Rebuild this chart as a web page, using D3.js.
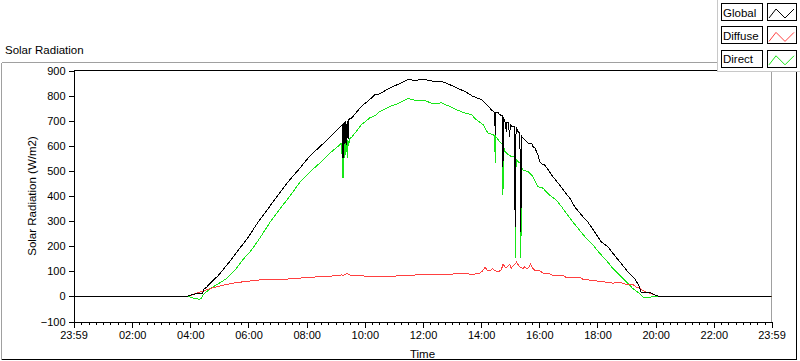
<!DOCTYPE html>
<html><head><meta charset="utf-8">
<script src="https://cdn.jsdelivr.net/npm/d3@7"></script>
<style>
body{margin:0;background:#fff;}
svg{display:block;font-family:"Liberation Sans",Arial,sans-serif;}
</style>
</head><body>
<svg id="c" width="800" height="361"></svg>
<script>
// ---- data (time in minutes after midnight, value in W/m2) ----
const seriesNames = ["Global", "Diffuse", "Direct"];
const seriesColors = ["#000000", "#ff4040", "#18e618"];
const xTickTimes = [-1, 120, 240, 360, 480, 600, 720, 840, 960, 1080, 1200, 1320, 1439];
const xTickLabels = ["23:59", "02:00", "04:00", "06:00", "08:00", "10:00", "12:00", "14:00", "16:00", "18:00", "20:00", "22:00", "23:59"];
const yTicks = [-100, 0, 100, 200, 300, 400, 500, 600, 700, 800, 900];

const globalData = [[-1,0],[233,0],[238,4],[245,8],[255,11],[266,13],[267,27],[274,37],[277,44],[298,84],[318,131],[339,184],[360,237],[380,297],[401,351],[421,404],[442,457],[463,504],[483,551],[504,591],[525,628],[545,668],[553,683],[555,551],[556,692],[557,600],[558,694],[560,612],[561,697],[563,604],[564,700],[566,627],[567,704],[569,708],[573,711],[593,757],[610,784],[621,804],[631,807],[652,831],[672,848],[689,864],[707,860],[715,866],[724,864],[741,857],[758,857],[775,844],[789,831],[806,817],[823,797],[841,784],[851,764],[861,744],[868,731],[869,644],[870,733],[875,733],[878,724],[884,720],[885,517],[886,715],[889,697],[892,657],[893,691],[896,691],[899,637],[900,684],[903,677],[909,677],[910,282],[911,277],[912,675],[916,657],[920,650],[921,262],[922,257],[923,640],[926,631],[933,617],[937,611],[944,611],[947,597],[951,591],[957,564],[961,537],[968,524],[971,524],[981,497],[988,477],[1002,444],[1012,417],[1023,391],[1033,357],[1047,324],[1060,297],[1074,257],[1088,217],[1102,197],[1115,164],[1129,131],[1143,97],[1157,71],[1165,44],[1170,17],[1181,17],[1191,13],[1201,4],[1208,0],[1439,0]];

const diffuseData = [[-1,0],[233,0],[240,4],[246,8],[254,13],[260,17],[274,27],[288,35],[308,45],[329,53],[356,60],[391,67],[439,69],[494,77],[549,83],[552,86],[555,82],[560,88],[564,91],[569,85],[573,84],[610,80],[652,80],[700,85],[734,87],[769,88],[803,91],[823,88],[837,93],[842,100],[848,115],[853,104],[858,101],[863,110],[868,104],[874,99],[878,101],[882,108],[885,128],[889,118],[892,115],[896,122],[899,128],[902,112],[905,120],[909,126],[913,136],[917,125],[920,117],[926,111],[930,118],[933,111],[938,114],[942,128],[946,112],[951,104],[961,101],[968,93],[981,91],[988,84],[1009,84],[1016,75],[1043,77],[1050,68],[1085,60],[1112,53],[1126,56],[1140,47],[1153,48],[1160,37],[1167,37],[1170,27],[1181,17],[1194,8],[1208,0],[1439,0]];

const directData = [[-1,0],[233,0],[240,-3],[246,-7],[252,-9],[258,-11],[262,-9],[264,-3],[267,8],[281,31],[298,51],[315,71],[332,104],[350,150],[366,184],[385,237],[405,297],[426,351],[447,404],[467,457],[490,502],[510,536],[530,574],[552,610],[555,471],[556,612],[558,551],[559,615],[561,564],[562,618],[564,551],[565,622],[567,600],[568,628],[573,634],[593,684],[610,711],[621,720],[631,737],[652,757],[672,771],[689,788],[707,780],[724,780],[741,767],[758,771],[775,757],[789,744],[806,731],[820,724],[830,704],[844,684],[854,651],[865,644],[868,640],[869,531],[870,638],[875,624],[884,604],[885,404],[886,600],[889,577],[896,564],[903,557],[909,555],[911,151],[912,545],[916,537],[921,530],[922,151],[923,515],[926,504],[937,497],[947,477],[957,437],[968,431],[971,424],[981,404],[995,384],[1006,357],[1016,331],[1029,297],[1043,264],[1057,231],[1071,204],[1085,171],[1098,144],[1112,111],[1126,84],[1140,57],[1153,31],[1167,11],[1174,-3],[1181,-5],[1188,-3],[1201,0],[1439,0]];

const allSeries = [globalData, diffuseData, directData];

// ---- drawing ----
const svg = d3.select("#c");
const L = 73.5, R = 771.5, T = 70.5, B = 321.5;
const x = d3.scaleLinear().domain([-1, 1439]).range([L, R]);
const y = d3.scaleLinear().domain([-100, 900]).range([B, T]);

svg.append("rect").attr("width", 800).attr("height", 361).attr("fill", "#fff");

// title
svg.append("text").attr("x", 5).attr("y", 54).attr("font-size", 11.5).attr("fill", "#000").text("Solar Radiation");

// outer frame
const fr = svg.append("g").attr("shape-rendering", "crispEdges");
fr.append("line").attr("x1", 1.5).attr("x2", 796.5).attr("y1", 62.5).attr("y2", 62.5).attr("stroke", "#a0a0a0");
fr.append("line").attr("x1", 1.5).attr("x2", 1.5).attr("y1", 62.5).attr("y2", 359.5).attr("stroke", "#a0a0a0");
fr.append("line").attr("x1", 796.5).attr("x2", 796.5).attr("y1", 62.5).attr("y2", 359.5).attr("stroke", "#000");
fr.append("line").attr("x1", 1.5).attr("x2", 796.5).attr("y1", 359.5).attr("y2", 359.5).attr("stroke", "#000");

// plot border top/right
fr.append("line").attr("x1", L).attr("x2", R).attr("y1", T).attr("y2", T).attr("stroke", "#000");
fr.append("line").attr("x1", R).attr("x2", R).attr("y1", T).attr("y2", B).attr("stroke", "#a0a0a0");

// clip
svg.append("clipPath").attr("id", "clip").append("rect")
  .attr("x", L).attr("y", T).attr("width", R - L).attr("height", B - T);

// data lines (Direct drawn first, Global on top)
const line = d3.line().x(d => x(d[0])).y(d => y(d[1]));
const order = [2, 1, 0];
svg.append("g").attr("clip-path", "url(#clip)")
  .selectAll("path").data(order).join("path")
  .attr("d", i => line(allSeries[i]))
  .attr("fill", "none")
  .attr("stroke", i => seriesColors[i])
  .attr("stroke-width", 1)
  .attr("shape-rendering", "crispEdges")
  .attr("stroke-linejoin", "miter");

// y axis
const yAxis = d3.axisLeft(y).tickValues(yTicks).tickSize(5).tickPadding(3).tickFormat(d3.format("d"));
const gy = svg.append("g").attr("transform", `translate(${L},0)`).call(yAxis);
gy.select(".domain").attr("stroke", "#000").attr("shape-rendering", "crispEdges");
gy.selectAll(".tick line").attr("stroke", "#000").attr("shape-rendering", "crispEdges");
gy.selectAll("text").attr("font-size", 11).attr("font-family", "Liberation Sans, Arial, sans-serif").attr("fill", "#000");

// x minor ticks
const minor = d3.range(15, 1439, 15).filter(t => t % 120 !== 0);
svg.append("g").attr("shape-rendering", "crispEdges").selectAll("line").data(minor).join("line")
  .attr("x1", d => Math.round(x(d)) + 0.5).attr("x2", d => Math.round(x(d)) + 0.5)
  .attr("y1", B).attr("y2", B + 3.5).attr("stroke", "#000");

// x axis
const xAxis = d3.axisBottom(x).tickValues(xTickTimes).tickSize(6).tickPadding(4)
  .tickFormat((d, i) => xTickLabels[i]);
const gx = svg.append("g").attr("transform", `translate(0,${B})`).call(xAxis);
gx.select(".domain").attr("stroke", "#000").attr("shape-rendering", "crispEdges");
gx.selectAll(".tick line").attr("stroke", "#000").attr("shape-rendering", "crispEdges");
gx.selectAll("text").attr("font-size", 11).attr("font-family", "Liberation Sans, Arial, sans-serif").attr("fill", "#000");

// axis titles
svg.append("text").attr("transform", `translate(36,${(T + B) / 2}) rotate(-90)`)
  .attr("text-anchor", "middle").attr("font-size", 11.5).attr("fill", "#000").text("Solar Radiation (W/m2)");
svg.append("text").attr("x", (L + R) / 2).attr("y", 358)
  .attr("text-anchor", "middle").attr("font-size", 11.5).attr("fill", "#000").text("Time");

// legend
const lg = svg.append("g").attr("shape-rendering", "crispEdges");
lg.append("rect").attr("x", 718).attr("y", 0).attr("width", 82).attr("height", 72).attr("fill", "#fff");
lg.append("line").attr("x1", 717.5).attr("x2", 717.5).attr("y1", 0).attr("y2", 71.5).attr("stroke", "#c8c8c8");
lg.append("line").attr("x1", 717.5).attr("x2", 800).attr("y1", 71.5).attr("y2", 71.5).attr("stroke", "#c8c8c8");
const rows = lg.selectAll("g.row").data(seriesNames).join("g").attr("class", "row")
  .attr("transform", (d, i) => `translate(0,${3 + i * 23.4})`);
rows.append("rect").attr("x", 721.5).attr("y", 0.5).attr("width", 41).attr("height", 17).attr("fill", "#fff").attr("stroke", "#000");
rows.append("text").attr("x", 723).attr("y", 13.5).attr("font-size", 11.5).attr("fill", "#000")
  .attr("shape-rendering", "auto").text(d => d);
rows.append("rect").attr("x", 767.5).attr("y", 0.5).attr("width", 29).attr("height", 17).attr("fill", "#fff").attr("stroke", "#000");
const zig = [[769, 15], [776, 6], [785, 15], [794, 6]];
rows.append("path").attr("d", d3.line()(zig)).attr("fill", "none")
  .attr("stroke", (d, i) => seriesColors[i]).attr("shape-rendering", "auto");
</script>
</body></html>
